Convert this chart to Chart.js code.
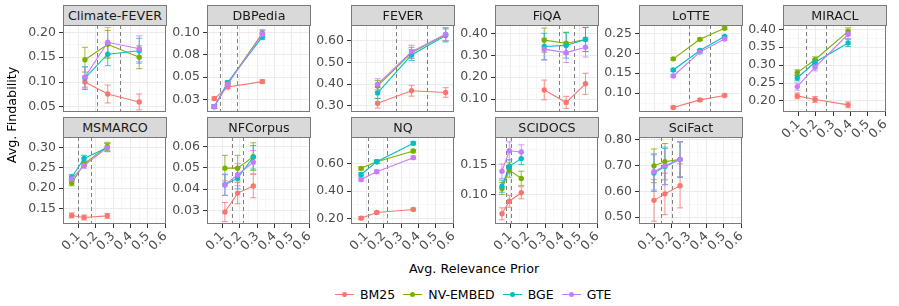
<!DOCTYPE html>
<html>
<head>
<meta charset="utf-8">
<script src="https://cdn.jsdelivr.net/npm/chart.js@4.4.1/dist/chart.umd.min.js"></script>
<style>
  body { margin: 0; background: #fff; font-family: 'DejaVu Sans', sans-serif; }
  #wrap { position: relative; width: 899px; height: 306px; overflow: hidden; background: #fff; }
  #wrap canvas { position: absolute; }
  .strip {
    position: absolute; box-sizing: border-box; width: 104px; height: 21px;
    background: #d9d9d9; border: 1px solid #7a7a7a; color: #1a1a1a;
    font-size: 12.7px; text-align: center; line-height: 19px; z-index: 2;
  }
  .title { position: absolute; font-size: 12.7px; color: #000; text-align: center; line-height: 16px; white-space: nowrap; }
  #legend { position: absolute; left: 335px; top: 286px; height: 16px; display: flex; align-items: center; font-size: 12.5px; color: #000; }
  .item { display: flex; align-items: center; margin-right: 8px; }
  .key { position: relative; width: 19px; height: 16px; margin-right: 6px; }
  .key .ln { position: absolute; left: 0; right: 0; top: 7.5px; height: 1.2px; }
  .key .dt { position: absolute; left: 7px; top: 5.5px; width: 5px; height: 5px; border-radius: 50%; }
</style>
</head>
<body>
<div id="wrap"></div>
<script>
// facets and series
const datasetNames = ['Climate-FEVER', 'DBPedia', 'FEVER', 'FiQA', 'LoTTE', 'MIRACL',
                      'MSMARCO', 'NFCorpus', 'NQ', 'SCIDOCS', 'SciFact'];
const models = ['BM25', 'NV-EMBED', 'BGE', 'GTE'];
const modelColors = ['#F8766D', '#7CAE00', '#00BFC4', '#C77CFF'];

// avg. relevance prior of each bin (x)
const priorX = [
  [0.138, 0.269, 0.450], [0.054, 0.131, 0.330], [0.165, 0.360, 0.556], [0.295, 0.421, 0.532],
  [0.209, 0.362, 0.504], [0.094, 0.196, 0.386], [0.062, 0.133, 0.267], [0.115, 0.188, 0.278],
  [0.070, 0.160, 0.370], [0.052, 0.094, 0.163], [0.098, 0.161, 0.248]
];
// bin boundaries (dashed lines)
const cutoffs = [
  [0.206, 0.340], [0.087, 0.186], [0.271, 0.447], [0.378, 0.466], [0.300, 0.421], [0.146, 0.261],
  [0.100, 0.173], [0.156, 0.219], [0.108, 0.221], [0.075, 0.106], [0.138, 0.200]
];

const bm25 = [
  [0.100, 0.076, 0.060], [0.026, 0.039, 0.045], [0.312, 0.370, 0.362], [0.142, 0.085, 0.170],
  [0.064, 0.083, 0.094], [0.214, 0.204, 0.189], [0.133, 0.128, 0.132], [0.0293, 0.0382, 0.0415],
  [0.205, 0.246, 0.268], [0.068, 0.089, 0.103], [0.565, 0.590, 0.621]
];
const bm25Err = [
  [0.012, 0.018, 0.016], [0.002, 0.002, 0.002], [0.022, 0.025, 0.022], [0.045, 0.028, 0.048],
  [0.003, 0.003, 0.003], [0.008, 0.008, 0.008], [0.006, 0.006, 0.006], [0.0045, 0.005, 0.0055],
  [0.010, 0.010, 0.010], [0.010, 0.010, 0.010], [0.080, 0.080, 0.085]
];
const nvEmbed = [
  [0.145, 0.176, 0.150], [0.017, 0.043, 0.099], [0.392, 0.545, 0.630], [0.369, 0.355, 0.372],
  [0.186, 0.235, 0.263], [0.279, 0.315, 0.394], [0.213, 0.260, 0.303], [0.0499, 0.0499, 0.0553],
  [0.564, 0.612, 0.689], [0.110, 0.141, 0.127], [0.698, 0.714, 0.723]
];
const nvEmbedErr = [
  [0.025, 0.028, 0.023], [0.002, 0.002, 0.004], [0.025, 0.025, 0.030], [0.055, 0.050, 0.055],
  [0.003, 0.003, 0.003], [0.008, 0.008, 0.010], [0.007, 0.007, 0.010], [0.006, 0.006, 0.0065],
  [0.012, 0.012, 0.012], [0.010, 0.012, 0.012], [0.065, 0.070, 0.068]
];
const bge = [
  [0.108, 0.156, 0.163], [0.017, 0.044, 0.095], [0.360, 0.535, 0.625], [0.340, 0.345, 0.372],
  [0.158, 0.207, 0.242], [0.264, 0.308, 0.362], [0.227, 0.273, 0.300], [0.0421, 0.0452, 0.0550],
  [0.520, 0.612, 0.745], [0.114, 0.147, 0.160], [0.670, 0.695, 0.722]
];
const bgeErr = [
  [0.023, 0.023, 0.025], [0.002, 0.002, 0.003], [0.025, 0.025, 0.030], [0.060, 0.058, 0.055],
  [0.003, 0.003, 0.003], [0.008, 0.008, 0.010], [0.007, 0.008, 0.010], [0.005, 0.005, 0.0055],
  [0.012, 0.012, 0.012], [0.010, 0.011, 0.010], [0.070, 0.070, 0.068]
];
const gte = [
  [0.110, 0.180, 0.167], [0.017, 0.042, 0.098], [0.400, 0.550, 0.630], [0.328, 0.312, 0.337],
  [0.143, 0.203, 0.236], [0.240, 0.294, 0.386], [0.223, 0.256, 0.300], [0.0420, 0.0468, 0.0527],
  [0.484, 0.540, 0.641], [0.139, 0.173, 0.171], [0.675, 0.698, 0.723]
];
const gteErr = [
  [0.020, 0.030, 0.026], [0.002, 0.002, 0.004], [0.025, 0.030, 0.030], [0.050, 0.045, 0.045],
  [0.003, 0.003, 0.003], [0.010, 0.010, 0.012], [0.007, 0.007, 0.010], [0.0048, 0.0052, 0.0055],
  [0.012, 0.012, 0.012], [0.012, 0.015, 0.012], [0.070, 0.072, 0.068]
];

// axes
const xLimits = [0.012, 0.604];
const xTicks = [0.1, 0.2, 0.3, 0.4, 0.5, 0.6];
const xTickLabels = ['0.1', '0.2', '0.3', '0.4', '0.5', '0.6'];
const yLimits = [
  [0.0398, 0.2148], [0.011, 0.1083], [0.272, 0.673], [0.0415, 0.438], [0.0526, 0.271], [0.169, 0.412],
  [0.112, 0.326], [0.0237, 0.0645], [0.163, 0.790], [0.051, 0.196], [0.474, 0.809]
];
const yTicks = [
  [0.05, 0.10, 0.15, 0.20], [0.025, 0.05, 0.075, 0.10], [0.3, 0.4, 0.5, 0.6], [0.1, 0.2, 0.3, 0.4],
  [0.10, 0.15, 0.20, 0.25], [0.20, 0.25, 0.30, 0.35, 0.40], [0.15, 0.20, 0.25, 0.30],
  [0.03, 0.04, 0.05, 0.06], [0.2, 0.4, 0.6], [0.10, 0.15], [0.5, 0.6, 0.7, 0.8]
];
const yTickLabels = [
  ['0.05', '0.10', '0.15', '0.20'], ['0.03', '0.05', '0.08', '0.10'], ['0.30', '0.40', '0.50', '0.60'],
  ['0.10', '0.20', '0.30', '0.40'], ['0.10', '0.15', '0.20', '0.25'], ['0.20', '0.25', '0.30', '0.35', '0.40'],
  ['0.15', '0.20', '0.25', '0.30'], ['0.03', '0.04', '0.05', '0.06'], ['0.20', '0.40', '0.60'],
  ['0.10', '0.15'], ['0.50', '0.60', '0.70', '0.80']
];

const seriesValues = [bm25, nvEmbed, bge, gte];
const seriesErrors = [bm25Err, nvEmbedErr, bgeErr, gteErr];

const FONT = "'DejaVu Sans', sans-serif";
const PANEL_W = 103, PANEL_H = 87, YAXIS_W = 52, PAD = 9;

function near(a, b) { return Math.abs(a - b) < 1e-9; }

// major ticks plus the minor ones half way between
function withMinor(major, min, max) {
  const step = major[1] - major[0];
  const out = [];
  for (let k = -20; k <= 40; k++) {
    const v = +(major[0] + k * step / 2).toFixed(10);
    if (v >= min && v <= max) out.push(v);
  }
  return out;
}

function labelFor(ticks, labels, v) {
  const idx = ticks.findIndex(t => near(t, v));
  return idx < 0 ? '' : labels[idx];
}

const panelPlugin = {
  id: 'panelDecor',
  beforeDatasetsDraw(chart, args, opts) {
    const { ctx, chartArea: a, scales: { x, y } } = chart;
    ctx.save();
    ctx.strokeStyle = '#808080';
    ctx.lineWidth = 1;
    ctx.setLineDash([4, 3]);
    opts.cutoffs.forEach(c => {
      const px = Math.round(x.getPixelForValue(c)) + 0.5;
      ctx.beginPath();
      ctx.moveTo(px, a.top);
      ctx.lineTo(px, a.bottom);
      ctx.stroke();
    });
    ctx.setLineDash([]);
    // error bars
    chart.data.datasets.forEach(ds => {
      ctx.strokeStyle = ds.borderColor;
      ctx.globalAlpha = 0.8;
      ds.data.forEach((p, k) => {
        const e = ds.errors[k];
        const px = x.getPixelForValue(p.x);
        const y0 = y.getPixelForValue(p.y - e);
        const y1 = y.getPixelForValue(p.y + e);
        ctx.beginPath();
        ctx.moveTo(px, y0); ctx.lineTo(px, y1);
        ctx.moveTo(px - 3, y0); ctx.lineTo(px + 3, y0);
        ctx.moveTo(px - 3, y1); ctx.lineTo(px + 3, y1);
        ctx.stroke();
      });
    });
    ctx.restore();
  },
  afterDraw(chart) {
    const { ctx, chartArea: a } = chart;
    ctx.save();
    ctx.strokeStyle = '#7a7a7a';
    ctx.lineWidth = 1;
    ctx.strokeRect(Math.round(a.left) + 0.5, Math.round(a.top) + 0.5,
                   Math.round(a.right - a.left) - 1, Math.round(a.bottom - a.top) - 1);
    ctx.restore();
  }
};

const wrap = document.getElementById('wrap');

datasetNames.forEach((name, i) => {
  const col = i % 6, row = Math.floor(i / 6);
  const left = 63 + col * 144;
  const top = row === 0 ? 25 : 137;
  const hasX = row === 1 || col === 5;
  const xh = hasX ? 34 : 0;

  const strip = document.createElement('div');
  strip.className = 'strip';
  strip.style.left = left + 'px';
  strip.style.top = (top - 20) + 'px';
  strip.textContent = name;
  wrap.appendChild(strip);

  const canvas = document.createElement('canvas');
  canvas.width = YAXIS_W + PANEL_W + 4;
  canvas.height = PAD + PANEL_H + (hasX ? xh : PAD);
  canvas.style.left = (left - YAXIS_W) + 'px';
  canvas.style.top = (top - PAD) + 'px';
  wrap.appendChild(canvas);

  const yMajor = yTicks[i];
  const gridColor = (major) => ctx => major.some(t => near(t, ctx.tick.value)) ? '#EBEBEB' : '#F3F3F3';
  const gridWidth = (major) => ctx => major.some(t => near(t, ctx.tick.value)) ? 1 : 0.7;
  const tickColor = (major) => ctx => major.some(t => near(t, ctx.tick.value)) ? '#333333' : 'rgba(0,0,0,0)';

  new Chart(canvas, {
    type: 'line',
    data: {
      datasets: models.map((m, s) => ({
        label: m,
        data: priorX[i].map((x, k) => ({ x: x, y: seriesValues[s][i][k] })),
        errors: seriesErrors[s][i],
        borderColor: modelColors[s],
        backgroundColor: modelColors[s],
        borderWidth: 1.1,
        pointRadius: 2.7,
        pointHoverRadius: 2.7,
        pointBorderWidth: 0,
        order: 3 - s
      }))
    },
    options: {
      responsive: false,
      animation: false,
      devicePixelRatio: 1,
      events: [],
      layout: { padding: { left: 0, top: PAD, right: 4, bottom: hasX ? 0 : PAD } },
      plugins: {
        legend: { display: false },
        tooltip: { enabled: false },
        panelDecor: { cutoffs: cutoffs[i] }
      },
      scales: {
        x: {
          type: 'linear',
          min: xLimits[0],
          max: xLimits[1],
          offset: false,
          afterBuildTicks: s => { s.ticks = withMinor(xTicks, s.min, s.max).map(v => ({ value: v })); },
          afterFit: s => { s.height = xh; s.paddingLeft = 0; s.paddingRight = 0; },
          border: { display: false },
          grid: {
            color: gridColor(xTicks),
            lineWidth: gridWidth(xTicks),
            drawTicks: hasX,
            tickLength: 4,
            tickColor: tickColor(xTicks),
            tickWidth: 1
          },
          ticks: {
            display: hasX,
            autoSkip: false,
            minRotation: 45,
            maxRotation: 45,
            padding: 1,
            color: '#4d4d4d',
            font: { family: FONT, size: 12.5 },
            callback: v => labelFor(xTicks, xTickLabels, v)
          }
        },
        y: {
          min: yLimits[i][0],
          max: yLimits[i][1],
          afterBuildTicks: s => { s.ticks = withMinor(yMajor, s.min, s.max).map(v => ({ value: v })); },
          afterFit: s => { s.width = YAXIS_W; s.paddingTop = 0; s.paddingBottom = 0; },
          border: { display: false },
          grid: {
            color: gridColor(yMajor),
            lineWidth: gridWidth(yMajor),
            tickLength: 4,
            tickColor: tickColor(yMajor),
            tickWidth: 1
          },
          ticks: {
            autoSkip: false,
            padding: 3,
            color: '#4d4d4d',
            font: { family: FONT, size: 12.5 },
            callback: v => labelFor(yMajor, yTickLabels[i], v)
          }
        }
      }
    },
    plugins: [panelPlugin]
  });
});

// axis titles
const xTitle = document.createElement('div');
xTitle.className = 'title';
xTitle.style.left = '374px'; xTitle.style.width = '200px'; xTitle.style.top = '261px';
xTitle.textContent = 'Avg. Relevance Prior';
wrap.appendChild(xTitle);

const yTitle = document.createElement('div');
yTitle.className = 'title';
yTitle.style.left = (12 - 100) + 'px'; yTitle.style.width = '200px'; yTitle.style.top = (115 - 8) + 'px';
yTitle.style.transform = 'rotate(-90deg)';
yTitle.textContent = 'Avg. Findability';
wrap.appendChild(yTitle);

// legend
const legend = document.createElement('div');
legend.id = 'legend';
models.forEach((m, s) => {
  const item = document.createElement('div');
  item.className = 'item';
  item.innerHTML = '<div class="key"><div class="ln" style="background:' + modelColors[s] +
    '"></div><div class="dt" style="background:' + modelColors[s] + '"></div></div><span>' + m + '</span>';
  legend.appendChild(item);
});
wrap.appendChild(legend);
</script>
</body>
</html>
